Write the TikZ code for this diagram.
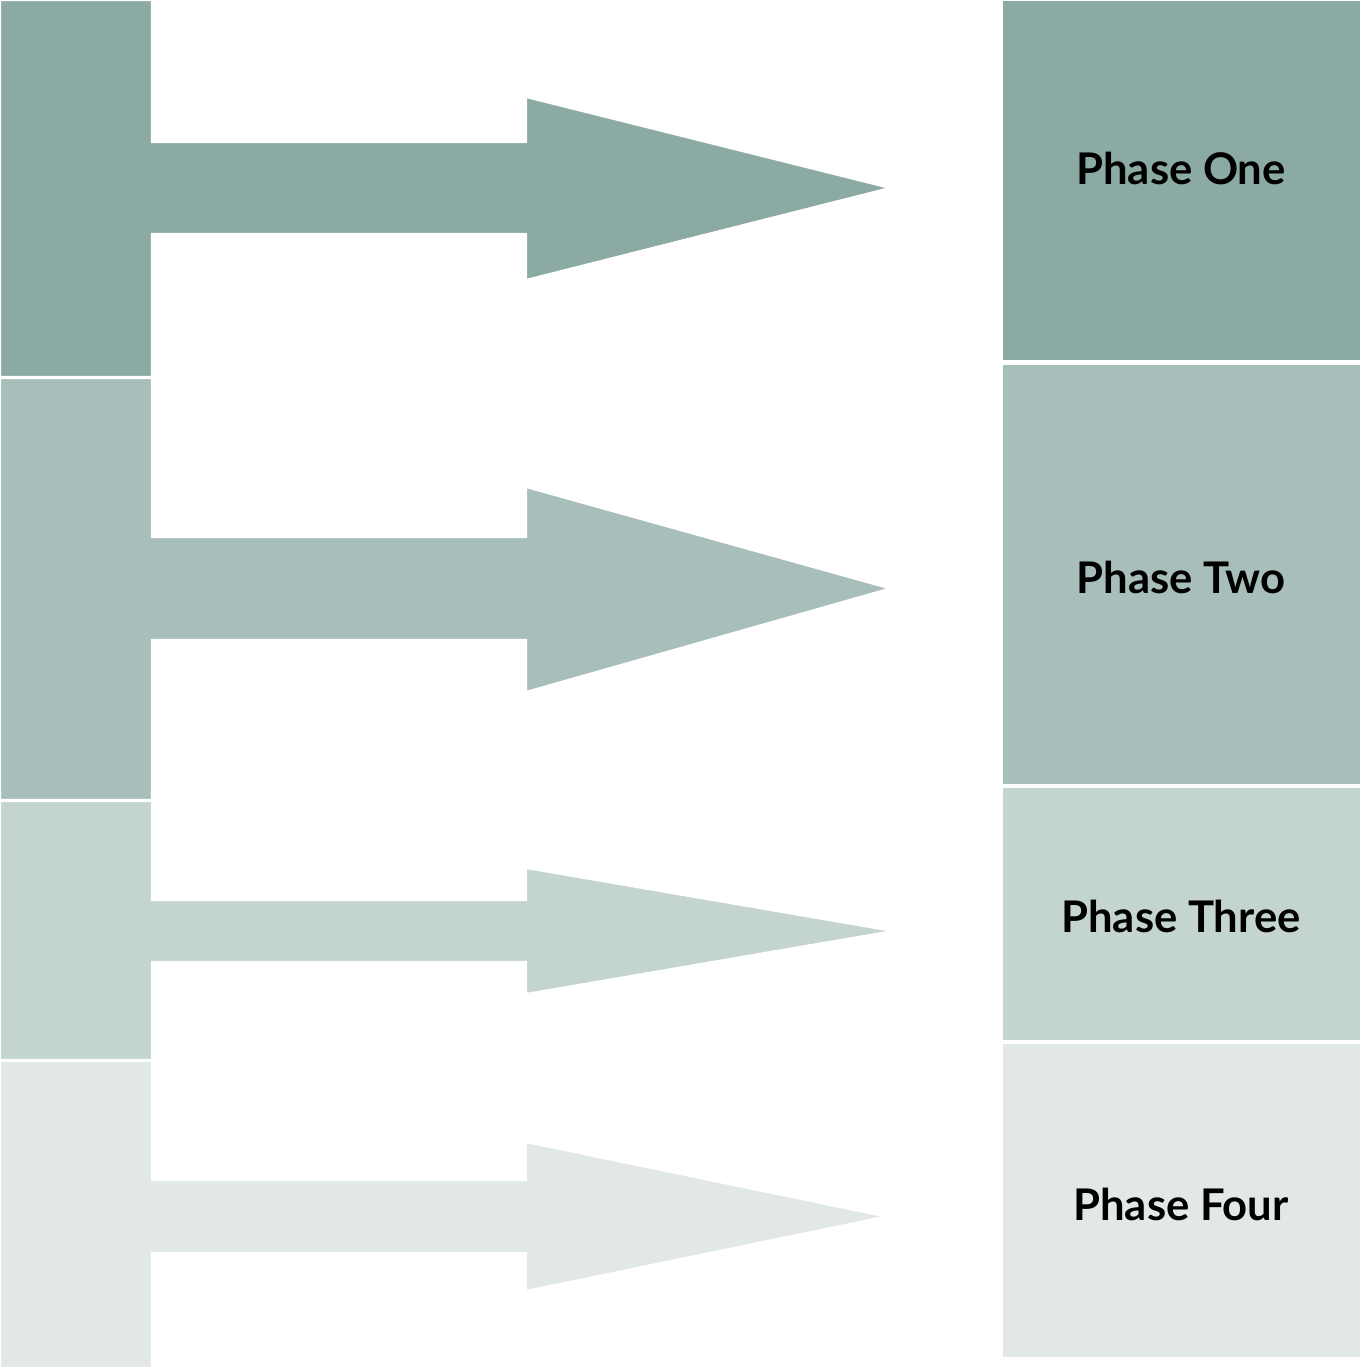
\documentclass[tikz,border=0pt]{standalone}
\usepackage{fontspec}
\setmainfont{Lato}
\definecolor{phaseA}{HTML}{8AAAA3}
\definecolor{phaseB}{HTML}{A7BEBA}
\definecolor{phaseC}{HTML}{C4D4D0}
\definecolor{phaseD}{HTML}{E2E8E7}
\begin{document}
\begin{tikzpicture}[
        x=0.01cm,
        y=-0.01cm,
        line join=miter,
        edge/.style={draw=white, line width=0.6pt},
        phase/.style={font=\bfseries\fontsize{12.4}{15}\selectfont, text=black, inner sep=0pt},
    ]
    
    % 画布尺寸（像素坐标）
    \useasboundingbox (0,0) rectangle (1361,1368);
    
    % 参数
    \def\W{152}   % 左侧竖条宽度
    \def\S{526}   % 箭杆终点
    
    % ---- 左侧竖条 + 箭头 ----
    \foreach \c/\ya/\yb/\sa/\sb/\ha/\hb/\tx in {
        phaseA/0/377/142/234/97/280/890,
        phaseB/378/800/537/640/487/692/890,
        phaseC/801/1060/900/962/868/994/893,
        phaseD/1061/1368/1180/1253/1142/1291/886}
    {
        \filldraw[fill=\c, edge]
            (0,\ya) -- (\W,\ya) -- (\W,\sa) -- (\S,\sa) -- (\S,\ha)
            -- (\tx,{(\sa+\sb)/2}) -- (\S,\hb) -- (\S,\sb) -- (\W,\sb)
            -- (\W,\yb) -- (0,\yb) -- cycle;
    }
    
    % ---- 右侧方块 ----
    \filldraw[fill=phaseA, edge] (1002,0) rectangle (1361,361);
    \filldraw[fill=phaseB, edge] (1002,364) rectangle (1361,785);
    \filldraw[fill=phaseC, edge] (1002,787) rectangle (1361,1041);
    \filldraw[fill=phaseD, edge] (1002,1043) rectangle (1361,1358);
    
    % 标签
    \node[phase] (one)   at (1181,168)  {Phase One};
    \node[phase] (two)   at (1181,577)  {Phase Two};
    \node[phase] (three) at (1181,916)  {Phase Three};
    \node[phase] (four)  at (1181,1204) {Phase Four};
    
\end{tikzpicture}
\end{document}
